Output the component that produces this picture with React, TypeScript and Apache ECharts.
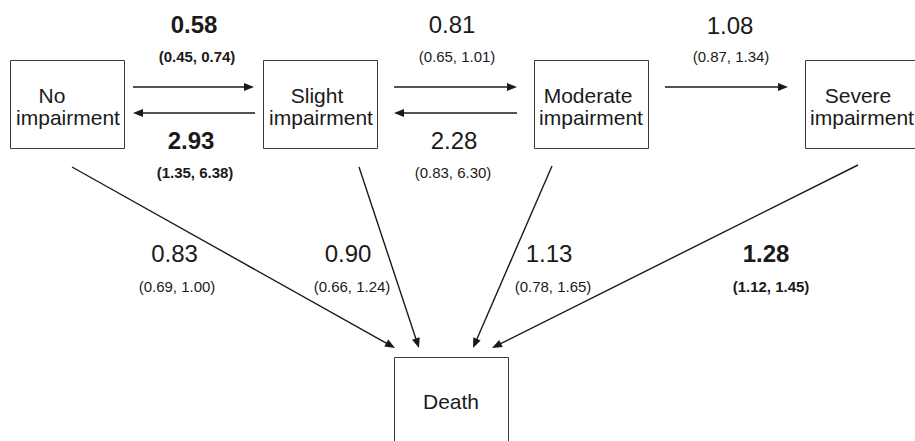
import { useEffect, useRef } from "react";
import * as echarts from "echarts";

// ---- data ----
const stateLines: string[][] = [
  ["No", "impairment"],
  ["Slight", "impairment"],
  ["Moderate", "impairment"],
  ["Severe", "impairment"],
  ["Death"],
];
const transitions = [
  "No→Slight", "Slight→No", "Slight→Moderate", "Moderate→Slight", "Moderate→Severe",
  "No→Death", "Slight→Death", "Moderate→Death", "Severe→Death",
];
const estimates = [0.58, 2.93, 0.81, 2.28, 1.08, 0.83, 0.9, 1.13, 1.28];
const lowerCI = [0.45, 1.35, 0.65, 0.83, 0.87, 0.69, 0.66, 0.78, 1.12];
const upperCI = [0.74, 6.38, 1.01, 6.3, 1.34, 1.0, 1.24, 1.65, 1.45];
const significant = [true, true, false, false, false, false, false, false, true];

// ---- layout ----
const boxes = [
  [10, 60, 114, 88],
  [263, 60, 114, 88],
  [534, 60, 114, 88],
  [805, 60, 114, 88],
  [394, 357, 114, 92],
];
const boxLineCenters = [
  [[52, 95], [68, 117]],
  [[317, 95], [321, 117]],
  [[588, 95], [591, 117]],
  [[858, 95], [862, 117]],
  [[451, 401.5]],
];
const arrows = [
  [133, 87, 254, 87],
  [255, 113, 133, 113],
  [394, 87, 517, 87],
  [517, 113, 394, 113],
  [665, 87, 788, 87],
  [72, 167, 395, 348],
  [359, 167, 419, 348],
  [552, 166, 473, 348],
  [858, 165, 492, 348],
];
const estPos = [
  [194, 24.5], [191, 140], [452, 24.5], [454, 140], [730, 25],
  [174.5, 253.5], [348, 253.5], [549, 253.5], [766, 253.5],
];
const ciPos = [
  [197, 56.5], [195, 172.5], [457, 56.5], [453, 172.5], [731, 56.5],
  [177, 286], [352, 286], [553, 286], [771, 286],
];

const FONT = "'Liberation Sans', Arial, Helvetica, sans-serif";
const INK = "#1a1a1a";

export default function App() {
  const ref = useRef<HTMLDivElement>(null);
  useEffect(() => {
    if (!ref.current) return;
    const chart = echarts.init(ref.current, undefined, { renderer: "svg" });
    const elements: any[] = [];

    boxes.forEach(([x, y, w, h], i) => {
      elements.push({
        type: "rect",
        shape: { x: x + 0.5, y: y + 0.5, width: w, height: h },
        style: { fill: "#fff", stroke: "#3a3a3a", lineWidth: 1 },
      });
      stateLines[i].forEach((t, j) => {
        const [cx, cy] = boxLineCenters[i][j];
        elements.push({
          type: "text",
          x: cx,
          y: cy,
          style: {
            text: t,
            font: `21px ${FONT}`,
            fill: INK,
            align: "center",
            verticalAlign: "middle",
          },
        });
      });
    });

    arrows.forEach(([x1, y1, x2, y2], i) => {
      const dx = x2 - x1;
      const dy = y2 - y1;
      const len = Math.sqrt(dx * dx + dy * dy);
      const ux = dx / len;
      const uy = dy / len;
      const L = 10;
      const W = 4;
      const bx = x2 - ux * L;
      const by = y2 - uy * L;
      elements.push({
        type: "line",
        shape: { x1, y1, x2: bx + ux * 2, y2: by + uy * 2 },
        style: { stroke: INK, lineWidth: 1.4 },
      });
      elements.push({
        type: "polygon",
        shape: {
          points: [
            [x2, y2],
            [bx - uy * W, by + ux * W],
            [bx + uy * W, by - ux * W],
          ],
        },
        style: { fill: INK },
      });
      const bold = significant[i] ? "bold " : "";
      elements.push({
        type: "text",
        x: estPos[i][0],
        y: estPos[i][1],
        style: {
          text: estimates[i].toFixed(2),
          font: `${bold}24px ${FONT}`,
          fill: INK,
          align: "center",
          verticalAlign: "middle",
        },
      });
      elements.push({
        type: "text",
        x: ciPos[i][0],
        y: ciPos[i][1],
        style: {
          text: `(${lowerCI[i].toFixed(2)}, ${upperCI[i].toFixed(2)})`,
          font: `${bold}15px ${FONT}`,
          fill: INK,
          align: "center",
          verticalAlign: "middle",
        },
      });
    });

    chart.setOption({
      animation: false,
      backgroundColor: "#ffffff",
      title: { show: false, text: transitions.join(", ") },
      graphic: { elements },
    });
    return () => chart.dispose();
  }, []);
  return (
    <div
      ref={ref}
      style={{ position: "fixed", left: 0, top: 0, width: 915, height: 441 }}
    />
  );
}
